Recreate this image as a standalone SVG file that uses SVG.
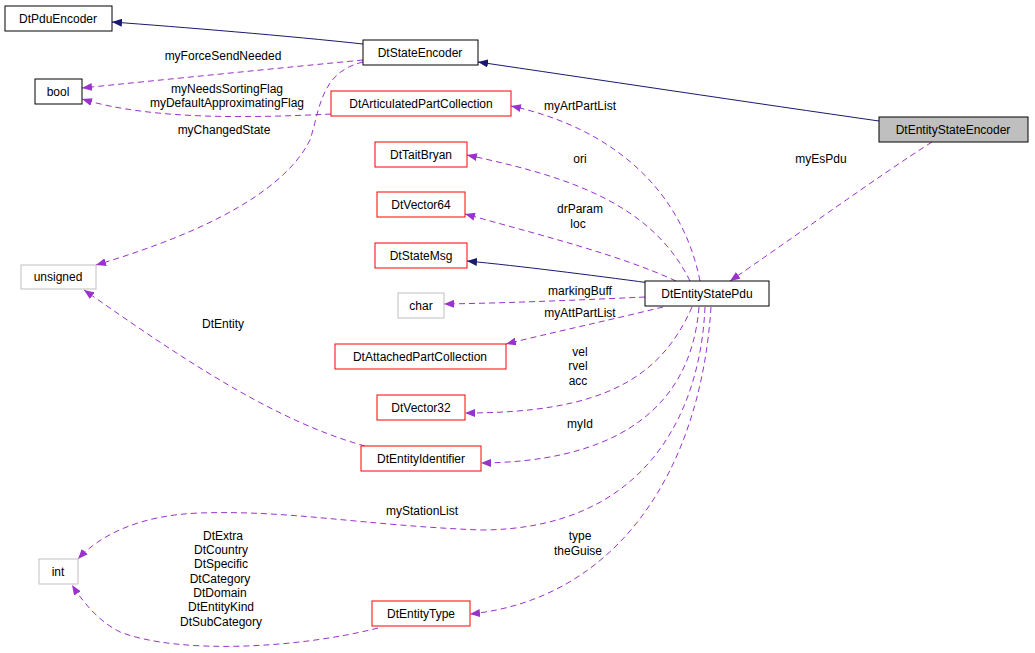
<svg xmlns="http://www.w3.org/2000/svg" width="1035" height="653" viewBox="0 0 1035 653">
<style>
text{font-family:"Liberation Sans",Arial,sans-serif;font-size:12px;fill:#000;text-anchor:middle}
.n rect{fill:#fff;stroke:#000;stroke-width:1}
.r rect{stroke:#ff0000}
.g rect{stroke:#bfbfbf}
.inh{fill:none;stroke:#191970;stroke-width:1}
.use{fill:none;stroke:#9a32cd;stroke-width:1;stroke-dasharray:6,4}
</style>
<defs>
<marker id="an" viewBox="0 0 10 8" refX="10" refY="4" markerWidth="10" markerHeight="8" markerUnits="userSpaceOnUse" orient="auto"><path d="M0,0L10,4L0,8z" fill="#191970"/></marker>
<marker id="ap" viewBox="0 0 10 8" refX="10" refY="4" markerWidth="10" markerHeight="8" markerUnits="userSpaceOnUse" orient="auto"><path d="M0,0L10,4L0,8z" fill="#9a32cd"/></marker>
</defs>
<g id="edges">
<path class="inh" marker-end="url(#an)" d="M363,44 C290,36 180,27 112,22"/>
<path class="inh" marker-end="url(#an)" d="M879,121 C760,104 580,77 478,62"/>
<path class="inh" marker-end="url(#an)" d="M650,283 C590,275 520,266 467,261"/>
<path class="use" marker-end="url(#ap)" d="M932,142 C880,175 790,240 730,281"/>
<path class="use" marker-end="url(#ap)" d="M363,60 C280,68 160,80 82,88"/>
<path class="use" marker-end="url(#ap)" d="M331,114 C250,118 150,120 82,99"/>
<text x="227" y="93">myNeedsSortingFlag</text>
<text x="227" y="107">myDefaultApproximatingFlag</text>
<text x="223" y="60">myForceSendNeeded</text>
<path class="use" marker-end="url(#ap)" d="M363,62 C320,72 320,110 310,140 C280,200 180,240 96,265"/>
<text x="224" y="134">myChangedState</text>
<path class="use" marker-end="url(#ap)" d="M365,446 C270,420 170,350 84,290"/>
<text x="223" y="328">DtEntity</text>
<path class="use" marker-end="url(#ap)" d="M700,281 C680,180 600,125 511,106"/>
<text x="580" y="110">myArtPartList</text>
<path class="use" marker-end="url(#ap)" d="M690,281 C650,200 560,175 467,155"/>
<text x="580" y="163">ori</text>
<path class="use" marker-end="url(#ap)" d="M676,281 C620,255 540,235 465,214"/>
<text x="580" y="213">drParam</text>
<text x="578" y="228">loc</text>
<path class="use" marker-end="url(#ap)" d="M645,297 C580,300 510,303 444,304"/>
<text x="580" y="295">markingBuff</text>
<path class="use" marker-end="url(#ap)" d="M663,307 C610,320 550,333 506,344"/>
<text x="580" y="317">myAttPartList</text>
<path class="use" marker-end="url(#ap)" d="M692,307 C660,380 600,413 465,413"/>
<text x="580" y="356">vel</text>
<text x="578" y="370">rvel</text>
<text x="578" y="385">acc</text>
<path class="use" marker-end="url(#ap)" d="M699,307 C690,420 600,462 481,463"/>
<text x="580" y="428">myId</text>
<path class="use" marker-end="url(#ap)" d="M705,307 C700,420 640,530 480,530 C360,525 290,510 200,513 C140,515 100,535 78,559"/>
<text x="422" y="515">myStationList</text>
<path class="use" marker-end="url(#ap)" d="M711,307 C700,480 610,600 470,614"/>
<text x="580" y="540">type</text>
<text x="578" y="555">theGuise</text>
<path class="use" marker-end="url(#ap)" d="M378,628 C300,648 180,655 120,632 C100,622 85,605 72,585"/>
<text x="223" y="540">DtExtra</text>
<text x="221" y="554">DtCountry</text>
<text x="221" y="568">DtSpecific</text>
<text x="220" y="583">DtCategory</text>
<text x="220" y="597">DtDomain</text>
<text x="221" y="611">DtEntityKind</text>
<text x="221" y="626">DtSubCategory</text>
<text x="821" y="163">myEsPdu</text>
</g>
<g id="DtPduEncoder" class="n"><rect x="5" y="6" width="107" height="25"/><text x="58" y="23">DtPduEncoder</text></g>
<g id="DtStateEncoder" class="n"><rect x="363" y="40" width="115" height="25"/><text x="420" y="57">DtStateEncoder</text></g>
<g id="bool" class="n"><rect x="35" y="79" width="47" height="25"/><text x="58" y="96">bool</text></g>
<g id="DtArticulatedPartCollection" class="n r"><rect x="331" y="91" width="180" height="25"/><text x="421" y="108">DtArticulatedPartCollection</text></g>
<g id="DtTaitBryan" class="n r"><rect x="375" y="142" width="92" height="25"/><text x="421" y="159">DtTaitBryan</text></g>
<g id="DtVector64" class="n r"><rect x="377" y="192" width="88" height="25"/><text x="421" y="209">DtVector64</text></g>
<g id="DtStateMsg" class="n r"><rect x="375" y="243" width="92" height="25"/><text x="421" y="260">DtStateMsg</text></g>
<g id="unsigned" class="n g"><rect x="21" y="265" width="75" height="24"/><text x="58" y="281">unsigned</text></g>
<g id="char" class="n g"><rect x="398" y="293" width="46" height="25"/><text x="421" y="310">char</text></g>
<g id="DtAttachedPartCollection" class="n r"><rect x="335" y="344" width="171" height="25"/><text x="420" y="361">DtAttachedPartCollection</text></g>
<g id="DtVector32" class="n r"><rect x="377" y="395" width="88" height="25"/><text x="421" y="412">DtVector32</text></g>
<g id="DtEntityIdentifier" class="n r"><rect x="361" y="446" width="120" height="25"/><text x="421" y="463">DtEntityIdentifier</text></g>
<g id="int" class="n g"><rect x="39" y="559" width="39" height="25"/><text x="58" y="576">int</text></g>
<g id="DtEntityType" class="n r"><rect x="372" y="601" width="98" height="25"/><text x="421" y="618">DtEntityType</text></g>
<g id="DtEntityStatePdu" class="n"><rect x="645" y="281" width="124" height="25"/><text x="707" y="298">DtEntityStatePdu</text></g>
<g id="DtEntityStateEncoder" class="n"><rect x="879" y="117" width="149" height="25" style="fill:#bfbfbf"/><text x="953" y="134">DtEntityStateEncoder</text></g>
</svg>
